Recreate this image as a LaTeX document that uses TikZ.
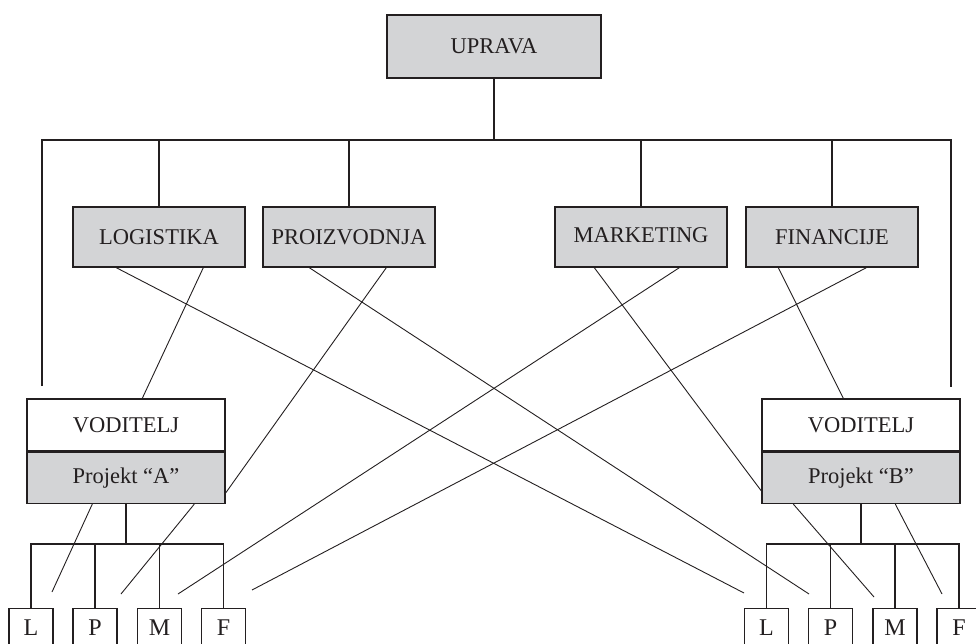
\documentclass[tikz,border=0pt]{standalone}
\usepackage{fontspec}
\setmainfont{Liberation Serif}
\definecolor{boxgray}{RGB}{211,212,214}
\definecolor{ink}{RGB}{35,31,32}
\begin{document}
\begin{tikzpicture}[x=1pt,y=-1pt,
  every node/.style={font=\fontsize{22.5}{26}\selectfont, text=ink},
  gbox/.style={draw=ink, line width=1.4pt, fill=boxgray, inner sep=0pt, minimum width=172pt, minimum height=60pt},
  wbox/.style={draw=ink, line width=1.4pt, fill=white, inner sep=0pt, minimum width=198pt, minimum height=52pt},
  pbox/.style={draw=ink, line width=1.4pt, fill=boxgray, inner sep=0pt, minimum width=198pt, minimum height=51pt},
  sbox/.style={draw=ink, line width=1.2pt, fill=white, inner sep=0pt, minimum width=44pt, minimum height=56pt, text depth=0pt, font=\fontsize{24}{28}\selectfont},
  tree/.style={draw=ink, line width=1.2pt},
  diag/.style={draw=ink, line width=0.9pt}]
\useasboundingbox (0,0) rectangle (976,644);
\clip (0,0) rectangle (976,644);

% top
\node[gbox, minimum width=214pt, minimum height=63pt] (up) at (494,46.5) {UPRAVA};
\node[gbox] (log) at (159,237) {LOGISTIKA};
\node[gbox] (pro) at (349,237) {PROIZVODNJA};
\node[gbox] (mar) at (641,237) {\raisebox{3.5pt}{MARKETING}};
\node[gbox] (fin) at (832,237) {FINANCIJE};

% project boxes
\node[wbox] (voda) at (126,425) {VODITELJ};
\node[pbox, anchor=north] (pra) at (voda.south) {Projekt “A”};
\node[wbox] (vodb) at (861,425) {VODITELJ};
\node[pbox, anchor=north] (prb) at (vodb.south) {Projekt “B”};

% small boxes
\node[sbox, anchor=north] (aL) at (31,608) {\raisebox{18pt}{L}};
\node[sbox, anchor=north] (aP) at (95,608) {\raisebox{18pt}{P}};
\node[sbox, anchor=north] (aM) at (159.5,608) {\raisebox{18pt}{M}};
\node[sbox, anchor=north] (aF) at (223.5,608) {\raisebox{18pt}{F}};
\node[sbox, anchor=north] (bL) at (766.5,608) {\raisebox{18pt}{L}};
\node[sbox, anchor=north] (bP) at (830.5,608) {\raisebox{18pt}{P}};
\node[sbox, anchor=north] (bM) at (895,608) {\raisebox{18pt}{M}};
\node[sbox, anchor=north] (bF) at (959,608) {\raisebox{18pt}{F}};

% coordinates
\coordinate (busL) at (42,140);
\coordinate (busR) at (951,140);
\coordinate (busU) at (494,140);
\coordinate (endL) at (42,386);
\coordinate (endR) at (951,387);
\coordinate (subA) at (126,544);
\coordinate (subB) at (861,544);

% main tree
\draw[tree] (up.south) -- (busU);
\draw[tree] (endL) -- (busL) -- (busR) -- (endR);
\draw[tree] (log.north) -- (log.north |- busL);
\draw[tree] (pro.north) -- (pro.north |- busL);
\draw[tree] (mar.north) -- (mar.north |- busL);
\draw[tree] (fin.north) -- (fin.north |- busL);

% sub trees
\draw[tree] (pra.south) -- (subA);
\draw[tree] (aL.north) -- (aL.north |- subA) -- (aF.north |- subA) -- (aF.north);
\draw[tree] (aP.north) -- (aP.north |- subA);
\draw[tree] (aM.north) -- (aM.north |- subA);
\draw[tree] (prb.south) -- (subB);
\draw[tree] (bL.north) -- (bL.north |- subB) -- (bF.north |- subB) -- (bF.north);
\draw[tree] (bP.north) -- (bP.north |- subB);
\draw[tree] (bM.north) -- (bM.north |- subB);

% diagonal free ends
\coordinate (d1) at (744,593);
\coordinate (d3) at (809,594);
\coordinate (d6) at (178,594);
\coordinate (d8) at (252,590);
\coordinate (d9) at (52,592);
\coordinate (d10) at (121,594);
\coordinate (d11) at (874,597);
\coordinate (d12) at (942,594);

% diagonals
\draw[diag] ([xshift=44pt]log.south west) -- (d1);
\draw[diag] ([xshift=131pt]log.south west) -- ([xshift=116pt]voda.north west);
\draw[diag] ([xshift=47pt]pro.south west) -- (d3);
\draw[diag] ([xshift=124pt]pro.south west) -- ([yshift=-15pt]pra.east);
\draw[diag] ([xshift=40pt]mar.south west) -- ([yshift=-13pt]prb.west);
\draw[diag] ([xshift=125pt]mar.south west) -- (d6);
\draw[diag] ([xshift=33pt]fin.south west) -- ([xshift=82pt]vodb.north west);
\draw[diag] ([xshift=121pt]fin.south west) -- (d8);
\draw[diag] ([xshift=66pt]pra.south west) -- (d9);
\draw[diag] ([xshift=168pt]pra.south west) -- (d10);
\draw[diag] ([xshift=32pt]prb.south west) -- (d11);
\draw[diag] ([xshift=134pt]prb.south west) -- (d12);
\end{tikzpicture}
\end{document}
